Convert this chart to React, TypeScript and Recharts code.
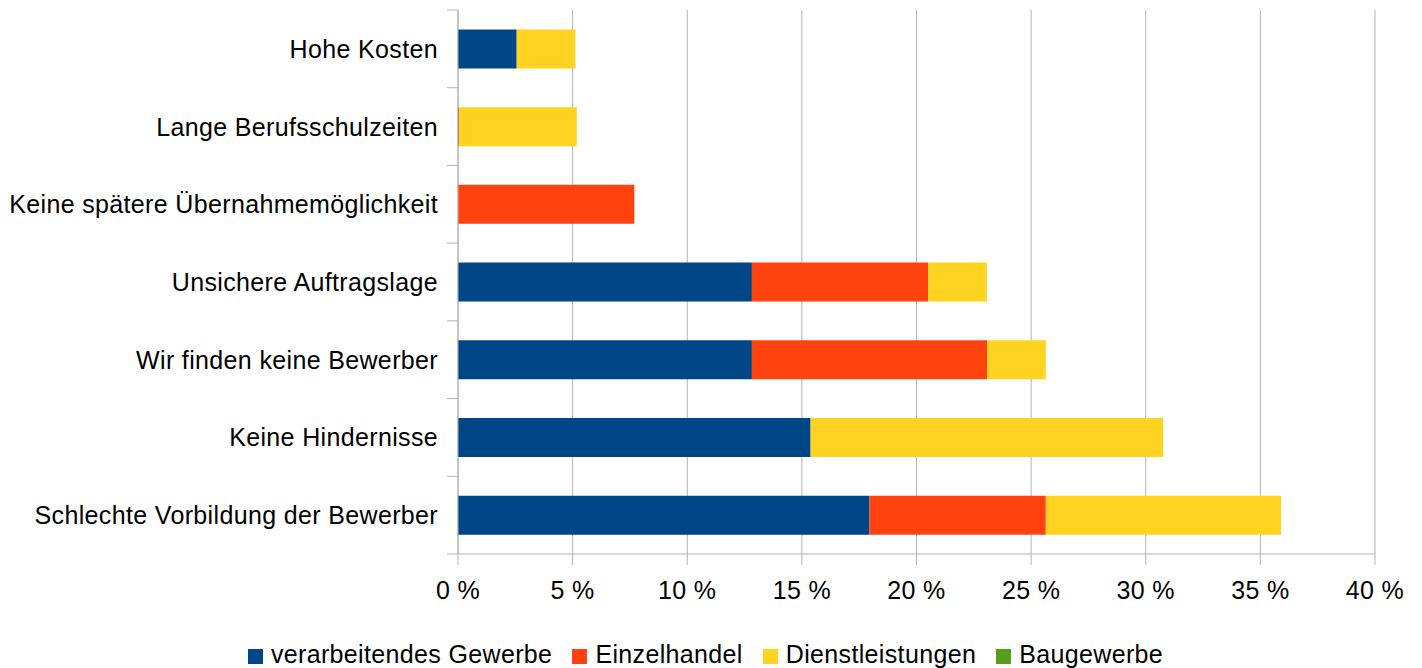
import { BarChart, Bar, XAxis, YAxis, CartesianGrid, Legend } from 'recharts';

const categories = [
  'Hohe Kosten',
  'Lange Berufsschulzeiten',
  'Keine spätere Übernahmemöglichkeit',
  'Unsichere Auftragslage',
  'Wir finden keine Bewerber',
  'Keine Hindernisse',
  'Schlechte Vorbildung der Bewerber',
];
const verarbeitendesGewerbe = [2.56, 0, 0, 12.82, 12.82, 15.38, 17.95];
const einzelhandel = [0, 0.05, 7.69, 7.69, 10.26, 0, 7.69];
const dienstleistungen = [2.56, 5.13, 0, 2.56, 2.56, 15.38, 10.26];
const baugewerbe = [0, 0, 0, 0, 0, 0, 0];
const seriesNames = ['verarbeitendes Gewerbe', 'Einzelhandel', 'Dienstleistungen', 'Baugewerbe'];
const xTicks = [0, 5, 10, 15, 20, 25, 30, 35, 40];

const data = categories.map((name, i) => ({
  name,
  verarbeitend: verarbeitendesGewerbe[i],
  einzelhandel: einzelhandel[i],
  dienst: dienstleistungen[i],
  bau: baugewerbe[i],
}));

const FONT = '"Liberation Sans", Arial, sans-serif';
const FONT_SIZE = 25;
const SPACING = 0.35;
const AXIS_X = 458;
const PLOT_TOP = 10;
const PLOT_BOTTOM = 554;
const BAND = (PLOT_BOTTOM - PLOT_TOP) / categories.length;
const GRID = '#b3b3b3';

const CategoryTick = (props: any) => {
  const { y, payload, index } = props;
  return (
    <g>
      <text
        x={AXIS_X - 20}
        y={y}
        textAnchor='end'
        dominantBaseline='central'
        fontSize={FONT_SIZE}
        letterSpacing={SPACING}
        fill='#000'
        fontFamily={FONT}
      >
        {payload.value}
      </text>
      <line x1={AXIS_X - 11} x2={AXIS_X} y1={y - BAND / 2} y2={y - BAND / 2} stroke={GRID} />
      {index === categories.length - 1 && (
        <line x1={AXIS_X - 11} x2={AXIS_X} y1={y + BAND / 2} y2={y + BAND / 2} stroke={GRID} />
      )}
    </g>
  );
};

export default function App() {
  return (
    <div style={{ position: 'absolute', left: 0, top: 0, fontFamily: FONT }}>
      <style>{`.recharts-legend-item { margin-right: 20px !important; }`}</style>
      <BarChart
        width={1422}
        height={668}
        data={data}
        layout='vertical'
        margin={{ top: PLOT_TOP, right: 47, left: 0, bottom: 0 }}
        barCategoryGap='25%'
      >
        <CartesianGrid horizontal={false} stroke={GRID} />
        <XAxis
          type='number'
          domain={[0, 40]}
          ticks={xTicks}
          tickFormatter={(v: number) => `${v} %`}
          stroke={GRID}
          tickSize={11}
          tickMargin={16}
          height={74}
          tick={{ fill: '#000', fontSize: FONT_SIZE, fontFamily: FONT, letterSpacing: SPACING }}
          interval={0}
        />
        <YAxis
          type='category'
          dataKey='name'
          width={AXIS_X}
          stroke={GRID}
          tickLine={false}
          tick={<CategoryTick />}
          interval={0}
        />
        <Legend
          verticalAlign='bottom'
          height={40}
          iconType='square'
          iconSize={15}
          itemSorter={(item: any) => seriesNames.indexOf(item.value)}
          wrapperStyle={{ fontSize: FONT_SIZE, fontFamily: FONT, letterSpacing: SPACING, top: 640, left: 28 }}
          formatter={(value: string) => <span style={{ color: '#000', marginLeft: 4 }}>{value}</span>}
        />
        <Bar dataKey='verarbeitend' name={seriesNames[0]} stackId='a' fill='#004586' isAnimationActive={false} />
        <Bar dataKey='einzelhandel' name={seriesNames[1]} stackId='a' fill='#ff420e' isAnimationActive={false} />
        <Bar dataKey='dienst' name={seriesNames[2]} stackId='a' fill='#ffd320' isAnimationActive={false} />
        <Bar dataKey='bau' name={seriesNames[3]} stackId='a' fill='#579d1c' isAnimationActive={false} />
      </BarChart>
    </div>
  );
}
